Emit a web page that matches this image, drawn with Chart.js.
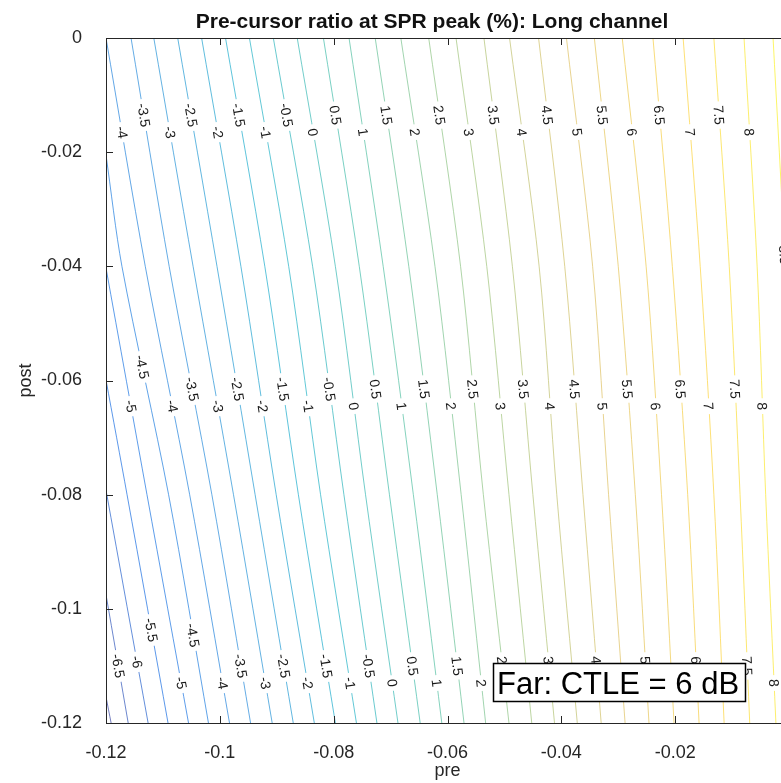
<!DOCTYPE html>
<html>
<head>
<meta charset="utf-8">
<script src="https://cdn.jsdelivr.net/npm/chart.js@4.4.0/dist/chart.umd.min.js"></script>
<style>
  html, body { margin: 0; padding: 0; background: #fff; overflow: hidden; }
  #wrap { width: 800px; height: 783px; }
</style>
</head>
<body>
<div id="wrap"><canvas id="contourChart" width="800" height="783"></canvas></div>
<script>
// contour levels (pre-cursor ratio, %)
const levels = [-7, -6.5, -6, -5.5, -5, -4.5, -4, -3.5, -3, -2.5, -2, -1.5, -1, -0.5, 0, 0.5,
                1, 1.5, 2, 2.5, 3, 3.5, 4, 4.5, 5, 5.5, 6, 6.5, 7, 7.5, 8, 8.5];

// post values where the crossings below were read
const postColumns = [0, -0.04, -0.08, -0.12];

// pre value where each level crosses post = 0 / -0.04 / -0.08 / -0.12 (null: not in plot)
const preAtPost0 = [null, null, null, null, null, null,
  -0.1200, -0.1156, -0.1116, -0.1074, -0.1032, -0.0990, -0.0948, -0.0906, -0.0864, -0.0818,
  -0.0773, -0.0727, -0.0682, -0.0633, -0.0585, -0.0536, -0.0491, -0.0440, -0.0391, -0.0342,
  -0.0293, -0.0239, -0.0186, -0.0132, -0.0079, -0.0028];
const preAtPost004 = [null, null, null, null, null,
  -0.1172, -0.1131, -0.1089, -0.1047, -0.1005, -0.0963, -0.0921, -0.0879, -0.0837, -0.0797, -0.0755,
  -0.0713, -0.0668, -0.0622, -0.0577, -0.0531, -0.0486, -0.0439, -0.0394, -0.0345, -0.0300,
  -0.0251, -0.0205, -0.0156, -0.0105, -0.0056, -0.0007];
const preAtPost008 = [null, null, null,
  -0.1163, -0.1128, -0.1090, -0.1053, -0.1014, -0.0976, -0.0938, -0.0901, -0.0862, -0.0823,
  -0.0782, -0.0744, -0.0702, -0.0660, -0.0618, -0.0576, -0.0537, -0.0492, -0.0450, -0.0408,
  -0.0362, -0.0317, -0.0270, -0.0224, -0.0178, -0.0132, -0.0086, -0.0041, 0.0005];
const preAtPost012 = [-0.1191, -0.1161, -0.1126, -0.1091, -0.1055, -0.1020, -0.0983, -0.0946,
  -0.0908, -0.0871, -0.0834, -0.0797, -0.0760, -0.0724, -0.0687, -0.0648, -0.0610, -0.0571,
  -0.0533, -0.0492, -0.0452, -0.0412, -0.0372, -0.0330, -0.0288, -0.0246, -0.0202, -0.0158,
  -0.0114, -0.0069, -0.0023, 0.0022];
// post where the low levels come in through the left edge (pre = -0.12)
const edgePost = [-0.1154, -0.0975, -0.0792, -0.0599, -0.0403, -0.0205];

// inline label rows: post of half-step labels, post of integer labels, level range
const labelRowHalfPost = [-0.0135, -0.0615, -0.1100];
const labelRowIntPost = [-0.0165, -0.0645, -0.1130];
const labelRowFirst = [-4, -5, -6.5];
const labelRowLast = [8, 8, 8];
// [row, level, post] labels that sit off their row, and a stray one at the right edge
const labelMoved = [[1, -4.5, -0.0576], [2, -6, -0.1093], [2, -5.5, -0.1037], [2, -4.5, -0.1046]];
const extraLabels = [[8.5, -0.038]];

const xTickValues = [-0.12, -0.1, -0.08, -0.06, -0.04, -0.02, 0];
const xTickLabels = ['-0.12', '-0.1', '-0.08', '-0.06', '-0.04', '-0.02', ''];
const yTickValues = [0, -0.02, -0.04, -0.06, -0.08, -0.1, -0.12];
const yTickLabels = ['0', '-0.02', '-0.04', '-0.06', '-0.08', '-0.1', '-0.12'];

const titleText = 'Pre-cursor ratio at SPR peak (%): Long channel';
const xTitle = 'pre';
const yTitle = 'post';
const boxText = 'Far: CTLE = 6 dB';

// parula colormap
const parulaStops = [
  [53, 42, 135], [3, 99, 225], [20, 129, 214], [6, 167, 198], [56, 185, 158],
  [146, 191, 115], [217, 186, 86], [252, 206, 46], [249, 251, 14]
];
function parula(t) {
  t = Math.max(0, Math.min(1, t));
  const f = t * (parulaStops.length - 1);
  const i = Math.min(Math.floor(f), parulaStops.length - 2);
  const r = f - i;
  const a = parulaStops[i], b = parulaStops[i + 1];
  const c = a.map((v, k) => Math.round(v + (b[k] - v) * r));
  return 'rgba(' + c[0] + ',' + c[1] + ',' + c[2] + ',0.65)';
}
const cMin = -7.5, cMax = 9;

const columns = [preAtPost0, preAtPost004, preAtPost008, preAtPost012];
const datasets = levels.map((lv, i) => {
  const pts = [];
  if (edgePost[i] != null) pts.push({ x: -0.12, y: edgePost[i] });
  columns.forEach((arr, k) => {
    if (arr[i] != null) pts.push({ x: arr[i], y: postColumns[k] });
  });
  return {
    label: String(lv),
    data: pts,
    showLine: true,
    borderColor: parula((lv - cMin) / (cMax - cMin)),
    borderWidth: 1,
    pointRadius: 0,
    tension: 0.3,
    fill: false
  };
});

// list of inline labels
const labelItems = [];
for (let r = 0; r < labelRowHalfPost.length; r++) {
  levels.forEach(lv => {
    if (lv < labelRowFirst[r] || lv > labelRowLast[r]) return;
    let post = Number.isInteger(lv) ? labelRowIntPost[r] : labelRowHalfPost[r];
    labelMoved.forEach(m => { if (m[0] === r && m[1] === lv) post = m[2]; });
    labelItems.push({ level: lv, post: post });
  });
}
extraLabels.forEach(e => labelItems.push({ level: e[0], post: e[1] }));

const FONT = "'Liberation Sans', Arial, Helvetica, sans-serif";
const AXIS_COLOR = '#262626';

const contourLabels = {
  id: 'contourLabels',
  afterDatasetsDraw(chart) {
    const ctx = chart.ctx;
    const xs = chart.scales.x, ys = chart.scales.y;
    const area = chart.chartArea;
    ctx.save();
    ctx.beginPath();
    ctx.rect(area.left, area.top, area.right - area.left, area.bottom - area.top);
    ctx.clip();
    ctx.font = '14px ' + FONT;
    ctx.textAlign = 'center';
    ctx.textBaseline = 'middle';
    labelItems.forEach(item => {
      const i = levels.indexOf(item.level);
      const pts = datasets[i].data;
      for (let k = 0; k < pts.length - 1; k++) {
        const a = pts[k], b = pts[k + 1];
        if (a.y >= item.post && b.y <= item.post) {
          const f = (a.y - item.post) / (a.y - b.y);
          const x = a.x + (b.x - a.x) * f;
          const px = xs.getPixelForValue(x), py = ys.getPixelForValue(item.post);
          const ang = Math.atan2(ys.getPixelForValue(b.y) - ys.getPixelForValue(a.y),
                                 xs.getPixelForValue(b.x) - xs.getPixelForValue(a.x));
          const txt = String(item.level);
          const w = ctx.measureText(txt).width;
          ctx.save();
          ctx.translate(px, py);
          ctx.rotate(ang);
          ctx.fillStyle = '#ffffff';
          ctx.fillRect(-w / 2 - 4, -7, w + 8, 14);
          ctx.fillStyle = '#1a1a1a';
          ctx.fillText(txt, 0, 1);
          ctx.restore();
          break;
        }
      }
    });
    ctx.restore();
  }
};

const frame = {
  id: 'frame',
  afterDraw(chart) {
    const ctx = chart.ctx;
    const xs = chart.scales.x, ys = chart.scales.y;
    const a = chart.chartArea;
    ctx.save();
    ctx.strokeStyle = AXIS_COLOR;
    ctx.lineWidth = 1;
    ctx.beginPath();
    ctx.rect(Math.round(a.left) + 0.5, Math.round(a.top) + 0.5, a.right - a.left, a.bottom - a.top);
    ctx.stroke();
    const tl = 7;
    ctx.beginPath();
    xTickValues.forEach(v => {
      const px = Math.round(xs.getPixelForValue(v)) + 0.5;
      ctx.moveTo(px, a.bottom); ctx.lineTo(px, a.bottom - tl);
      ctx.moveTo(px, a.top); ctx.lineTo(px, a.top + tl);
    });
    yTickValues.forEach(v => {
      const py = Math.round(ys.getPixelForValue(v)) + 0.5;
      ctx.moveTo(a.left, py); ctx.lineTo(a.left + tl, py);
      ctx.moveTo(a.right, py); ctx.lineTo(a.right - tl, py);
    });
    ctx.stroke();

    // title
    ctx.fillStyle = '#111111';
    ctx.font = 'bold 21px ' + FONT;
    ctx.textAlign = 'center';
    ctx.textBaseline = 'middle';
    ctx.fillText(titleText, 432, 22);

    // axis titles
    ctx.fillStyle = AXIS_COLOR;
    ctx.font = '18px ' + FONT;
    ctx.textBaseline = 'alphabetic';
    ctx.fillText(xTitle, (a.left + a.right) / 2, 776);
    ctx.save();
    ctx.translate(31, (a.top + a.bottom) / 2);
    ctx.rotate(-Math.PI / 2);
    ctx.fillText(yTitle, 0, 0);
    ctx.restore();

    // text box annotation
    ctx.fillStyle = '#ffffff';
    ctx.fillRect(493, 663, 253, 39);
    ctx.strokeStyle = '#000000';
    ctx.lineWidth = 1.5;
    ctx.strokeRect(493.5, 663.5, 252, 38);
    ctx.fillStyle = '#000000';
    ctx.font = '31px ' + FONT;
    ctx.textAlign = 'left';
    ctx.fillText(boxText, 497, 694);
    ctx.restore();
  }
};

const tickFont = { family: FONT, size: 18 };

new Chart(document.getElementById('contourChart').getContext('2d'), {
  type: 'scatter',
  data: { datasets: datasets },
  options: {
    responsive: false,
    animation: false,
    devicePixelRatio: 1,
    layout: { padding: { top: 38, right: 10, left: 0, bottom: 0 } },
    plugins: {
      legend: { display: false },
      tooltip: { enabled: false },
      title: { display: false }
    },
    scales: {
      x: {
        type: 'linear',
        min: -0.12,
        max: 0,
        afterBuildTicks: s => { s.ticks = xTickValues.map(v => ({ value: v })); },
        afterFit: s => { s.height = 60; },
        grid: { display: false },
        border: { display: false },
        ticks: {
          autoSkip: false,
          maxRotation: 0,
          padding: 11,
          color: AXIS_COLOR,
          font: tickFont,
          callback: (v, i) => xTickLabels[i]
        }
      },
      y: {
        type: 'linear',
        min: -0.12,
        max: 0,
        afterBuildTicks: s => { s.ticks = yTickValues.map(v => ({ value: v })); },
        afterFit: s => { s.width = 106; },
        grid: { display: false },
        border: { display: false },
        ticks: {
          autoSkip: false,
          padding: 16,
          color: AXIS_COLOR,
          font: tickFont,
          callback: (v, i) => yTickLabels[i]
        }
      }
    }
  },
  plugins: [contourLabels, frame]
});
</script>
</body>
</html>
